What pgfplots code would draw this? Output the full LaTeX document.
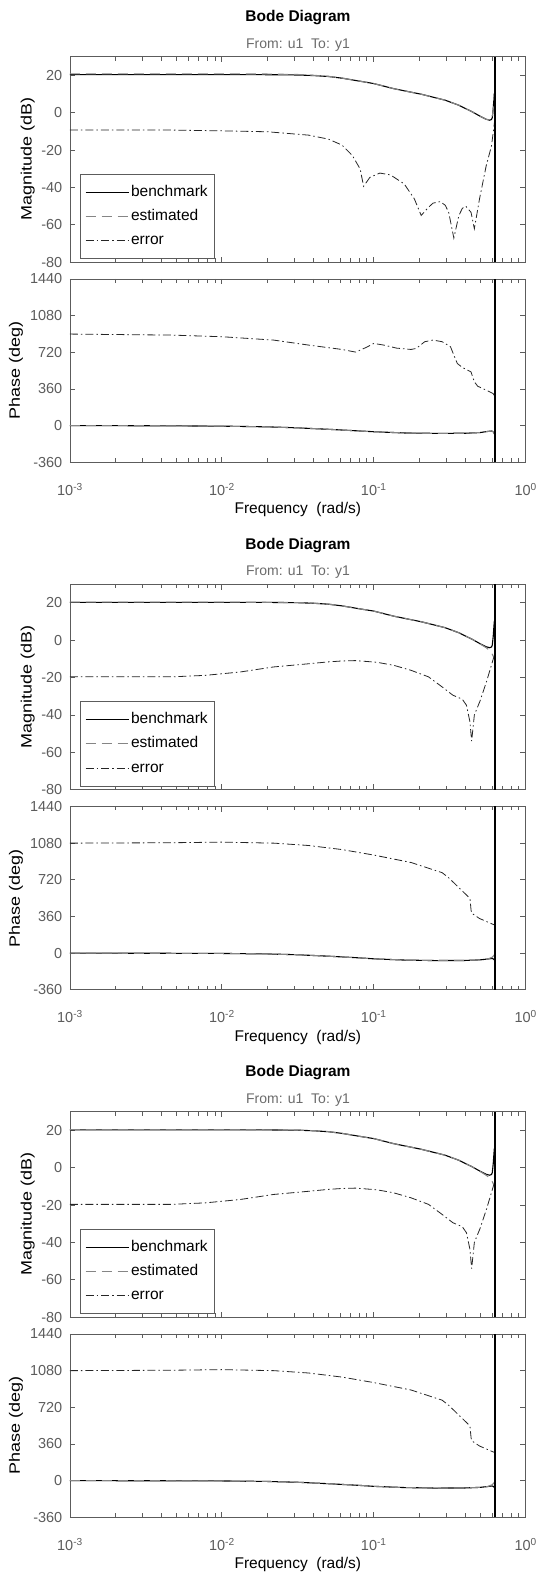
\documentclass[border=0pt]{standalone}
\usepackage{pgfplots}
\pgfplotsset{compat=1.18}
\usepackage{pgfplotstable}
\usepackage{fontspec}
\setmainfont{Liberation Sans}

\definecolor{axgray}{gray}{0.36}
\definecolor{estgray}{gray}{0.52}
\definecolor{subgray}{gray}{0.42}

% ---- panel 1: magnitude (dB)
\pgfplotstableread{
w d
0.001 20.4
0.01 20.4
0.02 20.35
0.0316 20.2
0.0398 19.9
0.0501 19.4
0.0617 18.5
0.0794 17.0
0.1 15.6
0.1349 12.9
0.2051 9.9
0.2951 6.7
0.3631 4.0
0.4467 0.4
0.4966 -1.7
0.5495 -3.5
0.5794 -4.0
0.5957 -3.6
0.6026 -2.6
0.6109 1.9
0.6209 9.9
0.6266 11
}\mAb
\pgfplotstableread{
w d
0.001 20.8
0.01 20.8
0.02 20.7
0.0316 20.45
0.0398 20.05
0.0501 19.5
0.0617 18.55
0.0794 17.0
0.1 15.6
0.1349 12.9
0.2051 9.9
0.2951 6.7
0.3631 4.0
0.4467 0.4
0.4966 -1.7
0.5495 -3.5
0.5794 -4.0
0.5957 -3.6
0.6026 -2.6
0.6109 1.9
0.6209 9.9
0.6266 11
}\mAe
\pgfplotstableread{
w d
0.001 -9.2
0.00468 -9.3
0.01 -9.7
0.02 -10.2
0.0372 -12.0
0.0501 -14.1
0.0617 -17.3
0.0724 -23.0
0.0813 -30.1
0.0857 -39.4
0.0942 -34.6
0.1096 -32.3
0.1288 -33.3
0.1585 -38.1
0.1849 -46.1
0.2051 -55.0
0.2291 -50.6
0.2455 -48.4
0.2735 -47.6
0.2951 -49.5
0.3112 -53.3
0.3365 -67.1
0.3631 -55.0
0.3828 -51.2
0.4027 -50.0
0.4365 -53.3
0.4592 -62.1
0.4966 -46.1
0.5495 -28.4
0.5957 -17.7
0.6209 -6.0
0.6266 -3.0
}\mAr
% ---- panel 1: phase (deg)
\pgfplotstableread{
w d
0.001 0
0.00316 -1
0.01 -5
0.02 -12
0.0316 -22
0.0501 -36
0.0794 -52
0.1 -60
0.1585 -72
0.2512 -76
0.3981 -75
0.5012 -68
0.5623 -57
0.5957 -53
0.6138 -62
0.6237 -85
0.6266 -100
}\pAb
\pgfplotstableread{
w d
0.001 0
0.00316 -1
0.01 -5
0.02 -12
0.0316 -22
0.0501 -36
0.0794 -52
0.1 -60
0.1585 -72
0.2512 -76
0.3981 -75
0.5012 -68
0.5623 -57
0.5957 -53
0.6138 -60
0.6237 -80
0.6266 -95
}\pAe
\pgfplotstableread{
w d
0.001 899
0.00468 889
0.01 873
0.0219 840
0.0372 791
0.0617 748
0.0759 722
0.0891 768
0.1 807
0.1161 791
0.1413 761
0.1758 748
0.1905 758
0.2163 824
0.2455 840
0.2818 824
0.3199 774
0.3365 692
0.3548 610
0.3828 571
0.4365 528
0.4592 430
0.4831 387
0.5495 348
0.6109 315
0.6266 282
}\pAr
% ---- panels 2 and 3: magnitude (dB)
\pgfplotstableread{
w d
0.001 20.3
0.01 20.3
0.02 20.25
0.0316 20.1
0.0398 19.8
0.0501 19.3
0.0617 18.4
0.0794 16.9
0.1 15.6
0.1349 12.9
0.2051 9.9
0.2951 6.7
0.3631 4.0
0.4467 0.4
0.4966 -1.7
0.5495 -3.5
0.5794 -4.0
0.5957 -3.6
0.6026 -2.6
0.6109 1.9
0.6209 9.9
0.6266 11
}\mBb
\pgfplotstableread{
w d
0.001 20.4
0.01 20.4
0.02 20.3
0.0316 20.15
0.0398 19.85
0.0501 19.35
0.0617 18.4
0.0794 16.9
0.1 15.6
0.1349 12.9
0.2051 9.9
0.2951 6.7
0.3631 4.0
0.4467 0.4
0.5012 -2.0
0.5495 -4.0
0.5888 -6.0
0.6095 -8.3
0.6266 -10.0
}\mBe
\pgfplotstableread{
w d
0.001 -19.6
0.00468 -19.6
0.0078 -18.8
0.0132 -17.0
0.0219 -14.3
0.0372 -12.6
0.0501 -11.6
0.0617 -11.1
0.0759 -10.9
0.1047 -11.8
0.1349 -13.4
0.1758 -16.1
0.2291 -19.6
0.2818 -25.0
0.3311 -29.4
0.3828 -31.6
0.4074 -34.8
0.4295 -43.7
0.4406 -54.0
0.4592 -40.0
0.5012 -32.4
0.5534 -21.9
0.6138 -9.6
0.6266 -8.0
}\mBr
% ---- panels 2 and 3: phase (deg)
\pgfplotstableread{
w d
0.001 0
0.00316 -1
0.01 -3
0.02 -8
0.0316 -16
0.0501 -30
0.0794 -46
0.1 -56
0.1585 -68
0.2512 -73
0.3981 -72
0.5012 -66
0.5623 -58
0.6026 -52
0.6138 -58
0.6237 -70
0.6266 -78
}\pBb
\pgfplotstableread{
w d
0.001 0
0.00316 -1
0.01 -3
0.02 -8
0.0316 -16
0.0501 -30
0.0794 -46
0.1 -56
0.1585 -68
0.2512 -73
0.3981 -72
0.5012 -66
0.5623 -58
0.6026 -40
0.6237 -15
0.6266 -8
}\pBe
\pgfplotstableread{
w d
0.001 1080
0.0046 1084
0.01 1090
0.022 1080
0.0372 1057
0.0617 1017
0.1 963
0.1758 890
0.2818 790
0.3112 740
0.4246 545
0.43 530
0.437 420
0.4426 390
0.4966 340
0.6109 282
0.6266 276
}\pBr

\tikzset{
  bench/.style={black, line width=1.1pt},
  est/.style={estgray, line width=1.1pt, dash pattern=on 10pt off 6pt},
  err/.style={black!85, line width=0.8pt, dash pattern=on 8pt off 3pt on 1.5pt off 3pt},
  nyq/.style={black, line width=2.4pt},
}

% #1 vertical offset, #2-#4 magnitude tables, #5-#7 phase tables
\newcommand{\bodepanel}[7]{%
  \node[font=\bfseries\fontsize{15.5}{18}\selectfont] at (298pt,1555.3pt-#1) {Bode Diagram};
  \node[font=\fontsize{14}{16}\selectfont, text=subgray] at (298pt,1528.2pt-#1) {From: u1\ \ To: y1};
  \begin{axis}[
    at={(70pt,1516.3pt-#1)}, anchor=north west,
    scale only axis, width=455.7pt, height=205.5pt,
    xmode=log, xmin=1e-3, xmax=1, ymin=-80, ymax=30,
    axis line style={axgray, line width=0.9pt},
    tick style={axgray, line width=0.8pt},
    tick align=inside, tick pos=both,
    major tick length=5.5pt, minor tick length=4pt,
    xtick={0.001,0.01,0.1,1},
    minor xtick={0.002,0.003,0.004,0.005,0.006,0.007,0.008,0.009,
                 0.02,0.03,0.04,0.05,0.06,0.07,0.08,0.09,
                 0.2,0.3,0.4,0.5,0.6,0.7,0.8,0.9},
    xticklabels={},
    ytick={-80,-60,-40,-20,0,20},
    yticklabels={-80,-60,-40,-20,0,20},
    yticklabel style={font=\fontsize{14.5}{17}\selectfont, text=axgray,
                      anchor=east, inner sep=0pt, xshift=-7.5pt},
    ylabel={\scalebox{1.2}[1]{Magnitude (dB)}},
    ylabel style={font=\fontsize{15}{17}\selectfont, text=black, anchor=center,
                  at={(axis description cs:-0.0928,0.5)}},
    legend cell align=left,
    legend style={at={(0.021,0.015)}, anchor=south west, draw=axgray,
      line width=0.8pt, fill=white, font=\fontsize{15.5}{17}\selectfont,
      inner xsep=5pt, inner ysep=9pt, row sep=6.3pt,
      nodes={inner sep=2pt, text height=11pt, text depth=3pt}},
    legend image code/.code={\draw[##1] (0pt,0pt) -- (43pt,0pt);},
  ]
    \addplot[bench] table {#2};
    \addlegendentry{benchmark}
    \addplot[est] table {#3};
    \addlegendentry{estimated}
    \addplot[err] table {#4};
    \addlegendentry{error}
    \addplot[nyq, forget plot] coordinates {(0.6283,-80) (0.6283,30)};
  \end{axis}
  \begin{axis}[
    at={(70pt,1294pt-#1)}, anchor=north west,
    scale only axis, width=455.7pt, height=183.3pt,
    xmode=log, xmin=1e-3, xmax=1, ymin=-360, ymax=1440,
    axis line style={axgray, line width=0.9pt},
    tick style={axgray, line width=0.8pt},
    tick align=inside, tick pos=both,
    major tick length=5.5pt, minor tick length=4pt,
    xtick={0.001,0.01,0.1,1},
    minor xtick={0.002,0.003,0.004,0.005,0.006,0.007,0.008,0.009,
                 0.02,0.03,0.04,0.05,0.06,0.07,0.08,0.09,
                 0.2,0.3,0.4,0.5,0.6,0.7,0.8,0.9},
    xticklabels={10\textsuperscript{-3},10\textsuperscript{-2},10\textsuperscript{-1},10\textsuperscript{0}},
    xticklabel style={font=\fontsize{14.5}{17}\selectfont, text=axgray,
                      anchor=base, inner sep=0pt, yshift=-33pt},
    ytick={-360,0,360,720,1080,1440},
    yticklabels={-360,0,360,720,1080,1440},
    yticklabel style={font=\fontsize{14.5}{17}\selectfont, text=axgray,
                      anchor=east, inner sep=0pt, xshift=-7.5pt},
    ylabel={\scalebox{1.2}[1]{Phase (deg)}},
    ylabel style={font=\fontsize{15}{17}\selectfont, text=black, anchor=center,
                  at={(axis description cs:-0.1185,0.5)}},
    xlabel={Frequency\ \ (rad/s)},
    xlabel style={font=\fontsize{15.5}{17}\selectfont, text=black, anchor=center,
                  at={(axis description cs:0.5,-0.26)}},
  ]
    \addplot[bench] table {#5};
    \addplot[est] table {#6};
    \addplot[err] table {#7};
    \addplot[nyq] coordinates {(0.6283,-360) (0.6283,1440)};
  \end{axis}
}

\begin{document}
\begin{tikzpicture}
  \path[use as bounding box] (0,0) rectangle (537pt,1573pt);
  \bodepanel{0pt}{\mAb}{\mAe}{\mAr}{\pAb}{\pAe}{\pAr}
  \bodepanel{527.5pt}{\mBb}{\mBe}{\mBr}{\pBb}{\pBe}{\pBr}
  \bodepanel{1055pt}{\mBb}{\mBe}{\mBr}{\pBb}{\pBe}{\pBr}
\end{tikzpicture}
\end{document}
